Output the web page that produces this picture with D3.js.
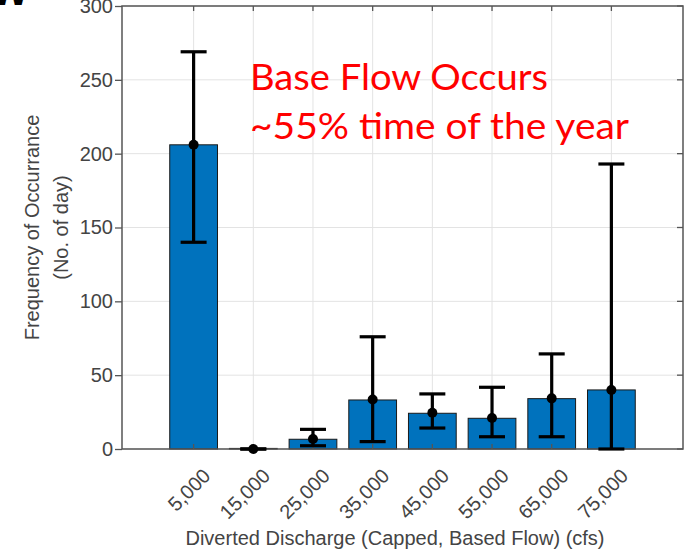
<!DOCTYPE html>
<html><head><meta charset="utf-8">
<script src="https://cdn.jsdelivr.net/npm/d3@7"></script>
<style>body{margin:0;background:#fff}svg{display:block}</style>
</head><body>
<svg id="c" width="696" height="553"></svg>
<script>
const categories = [5000, 15000, 25000, 35000, 45000, 55000, 65000, 75000];
const tickLabels = ["5,000","15,000","25,000","35,000","45,000","55,000","65,000","75,000"];
const barValues = [206, 0.4, 6.6, 33.2, 24.2, 20.8, 34.1, 40];
const meanValues = [206, 0, 6.8, 33.5, 24.5, 21, 34.3, 40];
const errLow = [140, 0, 2.2, 5, 14.2, 8.3, 8.3, 0];
const errHigh = [269, 0, 13.3, 76, 37.3, 41.8, 64.4, 193];
const yTicks = [0, 50, 100, 150, 200, 250, 300];
const annotation = ["Base Flow Occurs", "~55% time of the year"];

const svg = d3.select("#c");
const L = 122, R = 683, T = 6, B = 449;
const x = d3.scaleLinear().domain([-7000, 87000]).range([L, R]);
const y = d3.scaleLinear().domain([0, 300]).range([B, T]);
const step = x(15000) - x(5000);
const barW = step * 0.8;
const axisCol = "#555";
const txtCol = "#444";

// partial title glyph at top-left
svg.append("text").attr("x", -9).attr("y", 5).attr("font-family", "Liberation Sans, Arial")
  .attr("font-weight", "bold").attr("font-size", 40).attr("fill", "#000").text("W");

// grid
const g = svg.append("g");
g.selectAll(".gy").data(yTicks).enter().append("line")
  .attr("x1", L).attr("x2", R).attr("y1", d => y(d)).attr("y2", d => y(d))
  .attr("stroke", "#e3e3e3").attr("stroke-width", 1);
g.selectAll(".gx").data(categories).enter().append("line")
  .attr("x1", d => x(d)).attr("x2", d => x(d)).attr("y1", T).attr("y2", B)
  .attr("stroke", "#e3e3e3").attr("stroke-width", 1);

// bars
g.selectAll(".bar").data(categories).enter().append("rect")
  .attr("x", d => x(d) - barW / 2)
  .attr("y", (d, i) => y(barValues[i]))
  .attr("width", barW)
  .attr("height", (d, i) => Math.max(0.5, y(0) - y(barValues[i])))
  .attr("fill", "#0072BD").attr("stroke", "#1a1a1a").attr("stroke-width", 1);

// axes box
const ax = svg.append("g");
ax.append("rect").attr("x", L).attr("y", T).attr("width", R - L).attr("height", B - T)
  .attr("fill", "none").attr("stroke", axisCol).attr("stroke-width", 1.5);

// left axis (outward ticks)
const yAxis = d3.axisLeft(y).tickValues(yTicks).tickSize(7).tickPadding(2).tickFormat(d3.format("d"));
const ya = ax.append("g").attr("transform", `translate(${L},0)`).call(yAxis);
ya.select(".domain").remove();
ya.selectAll("line").attr("stroke", axisCol).attr("stroke-width", 1.3);
ya.selectAll("text").attr("font-family", "Liberation Sans, Arial, sans-serif").attr("font-size", 20).attr("fill", txtCol);

// right ticks inward
ax.selectAll(".rt").data(yTicks).enter().append("line")
  .attr("x1", R - 6).attr("x2", R).attr("y1", d => y(d)).attr("y2", d => y(d))
  .attr("stroke", axisCol).attr("stroke-width", 1.3);
// top ticks inward
ax.selectAll(".tt").data(categories).enter().append("line")
  .attr("x1", d => x(d)).attr("x2", d => x(d)).attr("y1", T).attr("y2", T + 5)
  .attr("stroke", axisCol).attr("stroke-width", 1.3);
// bottom ticks inward
ax.selectAll(".bt").data(categories).enter().append("line")
  .attr("x1", d => x(d)).attr("x2", d => x(d)).attr("y1", B - 5).attr("y2", B)
  .attr("stroke", axisCol).attr("stroke-width", 1.3);

// x tick labels rotated
svg.selectAll(".xl").data(categories).enter().append("text")
  .attr("transform", d => `translate(${x(d) + 8},${B + 18}) rotate(-45)`)
  .attr("text-anchor", "end").attr("dy", "0.71em")
  .attr("font-family", "Liberation Sans, Arial, sans-serif").attr("font-size", 20).attr("fill", txtCol)
  .text((d, i) => tickLabels[i]);

// error bars
const eb = svg.append("g").attr("stroke", "#000").attr("stroke-width", 3.2).attr("fill", "none");
const cap = 13;
categories.forEach((c, i) => {
  const cx = x(c);
  eb.append("line").attr("x1", cx).attr("x2", cx).attr("y1", y(errLow[i])).attr("y2", y(errHigh[i]));
  eb.append("line").attr("x1", cx - cap).attr("x2", cx + cap).attr("y1", y(errLow[i])).attr("y2", y(errLow[i]));
  eb.append("line").attr("x1", cx - cap).attr("x2", cx + cap).attr("y1", y(errHigh[i])).attr("y2", y(errHigh[i]));
});
svg.selectAll(".dot").data(categories).enter().append("circle")
  .attr("cx", d => x(d)).attr("cy", (d, i) => y(meanValues[i])).attr("r", 5).attr("fill", "#000");

// axis titles
svg.append("text").attr("x", 395).attr("y", 545).attr("text-anchor", "middle")
  .attr("font-family", "Liberation Sans, Arial, sans-serif").attr("font-size", 20).attr("fill", txtCol)
  .text("Diverted Discharge (Capped, Based Flow) (cfs)");
const yl = svg.append("text").attr("transform", `translate(0,${(T + B) / 2}) rotate(-90)`)
  .attr("text-anchor", "middle").attr("font-family", "Liberation Sans, Arial, sans-serif")
  .attr("font-size", 20).attr("fill", txtCol);
yl.append("tspan").attr("x", 0).attr("y", 39).text("Frequency of Occurrance");
yl.append("tspan").attr("x", 0).attr("y", 68).text("(No. of day)");

// annotation
const ann = svg.append("g").attr("font-family", "Lato, 'Open Sans', sans-serif").attr("font-size", 37).attr("fill", "#FF0000");
ann.append("text").attr("x", 250).attr("y", 90).attr("textLength", 298).attr("lengthAdjust", "spacingAndGlyphs").text(annotation[0]);
ann.append("text").attr("x", 250).attr("y", 139).attr("textLength", 379).attr("lengthAdjust", "spacingAndGlyphs").text(annotation[1]);
</script>
</body></html>
